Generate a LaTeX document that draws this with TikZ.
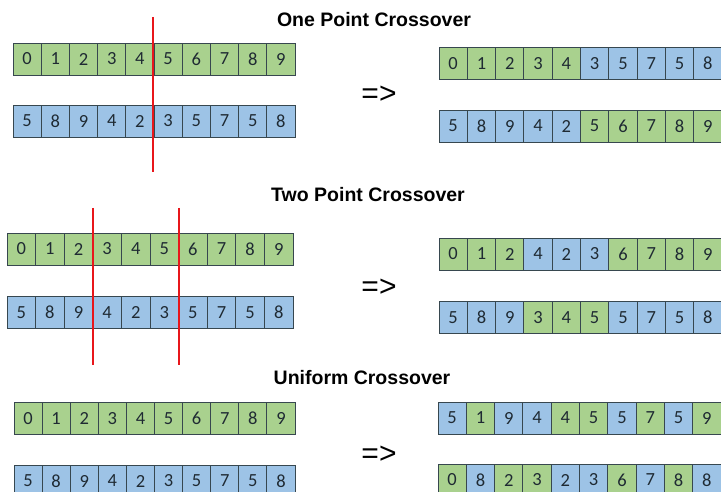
\documentclass[tikz,border=0pt]{standalone}
\usepackage{fontspec}
\setmainfont{Liberation Sans}
\newfontfamily\digitfont{Carlito}
\definecolor{G}{HTML}{A9D18E}
\definecolor{B}{HTML}{9DC3E6}
\definecolor{cellborder}{HTML}{37474F}
\definecolor{cutred}{HTML}{E8161B}
\definecolor{digitcol}{HTML}{1F2A33}
\newcommand{\cellrow}[5]{%
  \foreach \d/\c [count=\i] in {#5}
    \node[cell,fill=\c,minimum width=#4pt] (#1-\i) at ({#2+(\i-0.5)*#4},#3) {\d};}
\tikzset{
  cell/.style={draw=cellborder, line width=0.9pt, minimum height=32pt, inner sep=0pt,
    font=\digitfont\fontsize{18.5}{18.5}\selectfont, text=digitcol},
  titletext/.style={font=\bfseries\fontsize{19.5}{19.5}\selectfont, inner sep=0pt},
  arrowtext/.style={font=\fontsize{30}{30}\selectfont, inner sep=0pt},
  cut/.style={draw=cutred, line width=2.6pt}
}
\begin{document}
\begin{tikzpicture}[x=1pt,y=-1pt]
\useasboundingbox (0,0) rectangle (721,492);
\fill[white] (0,0) rectangle (721,492);
% ---------- One point ----------
\node[titletext] (t1) at (374,20) {One Point Crossover};
\cellrow{a}{13}{59}{28.2}{0/G,1/G,2/G,3/G,4/G,5/G,6/G,7/G,8/G,9/G}
\cellrow{b}{13}{121}{28.2}{5/B,8/B,9/B,4/B,2/B,3/B,5/B,7/B,5/B,8/B}
\cellrow{c}{439}{63.5}{28.3}{0/G,1/G,2/G,3/G,4/G,3/B,5/B,7/B,5/B,8/B}
\cellrow{d}{439}{126}{28.3}{5/B,8/B,9/B,4/B,2/B,5/G,6/G,7/G,8/G,9/G}
\node[arrowtext] (ar1) at (379,95) {=>};
\coordinate (k1t) at (153,17);
\coordinate (k1b) at (153,172);
\draw[cut] (k1t) -- (k1b);
% ---------- Two point ----------
\node[titletext] (t2) at (368,195) {Two Point Crossover};
\cellrow{e}{7}{249}{28.6}{0/G,1/G,2/G,3/G,4/G,5/G,6/G,7/G,8/G,9/G}
\cellrow{f}{7}{312.5}{28.6}{5/B,8/B,9/B,4/B,2/B,3/B,5/B,7/B,5/B,8/B}
\cellrow{g}{439}{254}{28.3}{0/G,1/G,2/G,4/B,2/B,3/B,6/G,7/G,8/G,9/G}
\cellrow{h}{439}{317.5}{28.3}{5/B,8/B,9/B,3/G,4/G,5/G,5/B,7/B,5/B,8/B}
\node[arrowtext] (ar2) at (379,288) {=>};
\coordinate (k2t) at (93,208);
\coordinate (k2b) at (93,365);
\coordinate (k3t) at (179,208);
\coordinate (k3b) at (179,365);
\draw[cut] (k2t) -- (k2b);
\draw[cut] (k3t) -- (k3b);
% ---------- Uniform ----------
\node[titletext] (t3) at (362,378) {Uniform Crossover};
\cellrow{m}{14}{418.5}{28.1}{0/G,1/G,2/G,3/G,4/G,5/G,6/G,7/G,8/G,9/G}
\cellrow{n}{14}{481}{28.1}{5/B,8/B,9/B,4/B,2/B,3/B,5/B,7/B,5/B,8/B}
\cellrow{p}{438}{418}{28.3}{5/B,1/G,9/B,4/B,4/G,5/G,5/B,7/G,5/B,9/G}
\cellrow{q}{438}{480}{28.3}{0/G,8/B,2/G,3/G,2/B,3/B,6/G,7/B,8/G,8/B}
\node[arrowtext] (ar3) at (379,455) {=>};
\end{tikzpicture}
\end{document}
